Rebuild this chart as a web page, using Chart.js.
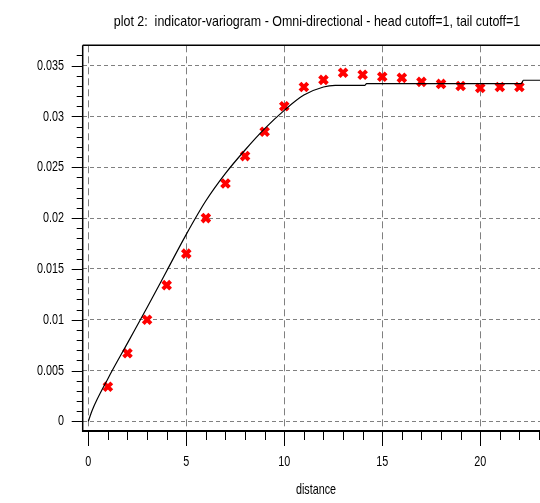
<!DOCTYPE html>
<html>
<head>
<meta charset="utf-8">
<script src="https://cdn.jsdelivr.net/npm/chart.js@4"></script>
<style>
  html, body { margin: 0; padding: 0; background: #fff; }
  canvas { display: block; }
</style>
</head>
<body>
<canvas id="variogram" width="540" height="503"></canvas>
<script>
// experimental points (red crosses)
const lagDistance = [1, 2, 3, 4, 5, 6, 7, 8, 9, 10, 11, 12, 13, 14, 15, 16, 17, 18, 19, 20, 21, 22];
const variogramValues = [0.0034, 0.0067, 0.0100, 0.0134, 0.0165, 0.0200, 0.0234, 0.0261, 0.0285, 0.0310,
  0.0329, 0.0336, 0.0343, 0.0341, 0.0339, 0.0338, 0.0334, 0.0332, 0.0330, 0.0328, 0.0329, 0.0329];

// fitted model (black line)
const modelDistance = [0, 0.2, 1, 2, 3, 4, 5, 6, 7, 8, 9, 10, 11, 12, 12.6, 14.1, 14.2, 22.1, 22.2, 23.2];
const modelValues = [0, 0.0011, 0.0042, 0.0077, 0.0112, 0.0148, 0.0184, 0.0217, 0.0244, 0.0267, 0.0288,
  0.0306, 0.0321, 0.0329, 0.03305, 0.03305, 0.03322, 0.03322, 0.03356, 0.03356];

const xTickValues = [0, 5, 10, 15, 20];
const yTickValues = [0, 0.005, 0.01, 0.015, 0.02, 0.025, 0.03, 0.035];

const titleText = 'plot 2:  indicator-variogram - Omni-directional - head cutoff=1, tail cutoff=1';
const xAxisTitle = 'distance';

// the original uses a tall, narrow font: draw text squeezed horizontally
const textFont = "15px 'Liberation Sans', Arial, sans-serif";

function squeezedText(ctx, str, x, y, align, squeeze) {
  ctx.save();
  ctx.scale(squeeze, 1);
  ctx.textAlign = align;
  ctx.fillText(str, x / squeeze, y);
  ctx.restore();
}

// axis lines, frame top, tick marks and all labels
const axisFrame = {
  id: 'axisFrame',
  afterDraw(chart) {
    const { ctx, chartArea: a, scales: { x, y } } = chart;
    const seg = (x1, y1, x2, y2) => { ctx.beginPath(); ctx.moveTo(x1, y1); ctx.lineTo(x2, y2); ctx.stroke(); };
    ctx.save();
    ctx.strokeStyle = '#000';
    ctx.lineWidth = 1.5;
    seg(a.left, a.top, a.right, a.top);
    seg(a.left, a.top, a.left, a.bottom + 1);
    ctx.lineWidth = 2;
    seg(a.left, a.bottom, a.right, a.bottom);
    ctx.lineWidth = 1;
    for (let v = 0; v <= Math.floor(x.max); v++) {
      const px = Math.round(x.getPixelForValue(v)) + 0.5;
      seg(px, a.bottom, px, a.bottom + (v % 5 === 0 ? 15 : 9));
    }
    for (let i = 0; i <= 36; i++) {
      const py = Math.round(y.getPixelForValue(i / 1000)) + 0.5;
      seg(a.left, py, a.left - (i % 5 === 0 ? 11 : 6), py);
    }

    ctx.fillStyle = '#000';
    ctx.font = textFont;
    ctx.textBaseline = 'middle';
    xTickValues.forEach(v => squeezedText(ctx, String(v), x.getPixelForValue(v), 462, 'center', 0.72));
    yTickValues.forEach(v => squeezedText(ctx, String(+v.toFixed(3)), 64, y.getPixelForValue(v), 'right', 0.72));
    squeezedText(ctx, xAxisTitle, 316, 490, 'center', 0.72);
    squeezedText(ctx, titleText, 317, 22, 'center', 0.83);
    ctx.restore();
  }
};

new Chart(document.getElementById('variogram'), {
  type: 'scatter',
  data: {
    datasets: [
      {
        type: 'line',
        data: modelDistance.map((d, i) => ({ x: d, y: modelValues[i] })),
        borderColor: '#000',
        borderWidth: 1.2,
        pointRadius: 0,
        cubicInterpolationMode: 'monotone',
        fill: false
      },
      {
        data: lagDistance.map((d, i) => ({ x: d, y: variogramValues[i] })),
        pointStyle: 'crossRot',
        pointRadius: 5.5,
        pointBorderWidth: 4,
        borderColor: '#ff0000',
        backgroundColor: '#ff0000'
      }
    ]
  },
  options: {
    responsive: false,
    devicePixelRatio: 1,
    animation: false,
    layout: { padding: { top: 45.3 }, autoPadding: false },
    plugins: {
      legend: { display: false },
      tooltip: { enabled: false }
    },
    scales: {
      x: {
        type: 'linear',
        min: -0.286,
        max: 23.05,
        afterBuildTicks: s => { s.ticks = xTickValues.map(v => ({ value: v })); },
        afterFit: s => { s.height = 72; },
        grid: { color: '#808080', lineWidth: 1, drawTicks: false },
        border: { display: false, dash: [7, 4] },
        ticks: { display: false }
      },
      y: {
        type: 'linear',
        min: -0.00095,
        max: 0.037,
        afterBuildTicks: s => { s.ticks = yTickValues.map(v => ({ value: v })); },
        afterFit: s => { s.width = 82.7; },
        grid: { color: '#808080', lineWidth: 1, drawTicks: false },
        border: { display: false, dash: [4, 3] },
        ticks: { display: false }
      }
    }
  },
  plugins: [axisFrame]
});
</script>
</body>
</html>
